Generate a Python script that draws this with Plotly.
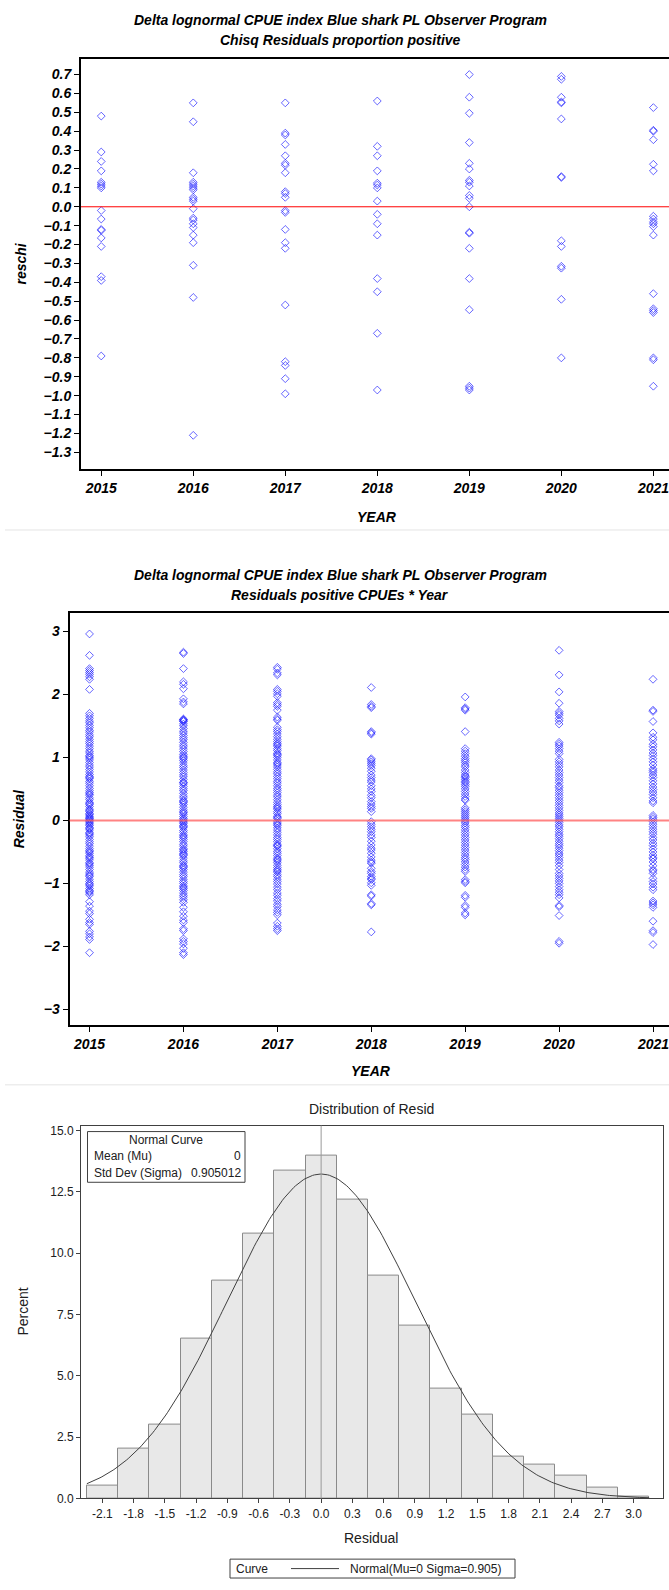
import plotly.graph_objects as go
import numpy as np

W, H = 669, 1590

YEARS = [2015, 2016, 2017, 2018, 2019, 2020, 2021]
YEAR_LABELS = ["2015", "2016", "2017", "2018", "2019", "2020", "2021"]

# ---- Panel 1: Chisq residuals proportion positive ----
reschi_2015 = [0.48, 0.29, 0.24, 0.19, 0.13, 0.12, 0.11, 0.10, -0.02, -0.065, -0.12, -0.125,
               -0.165, -0.21, -0.37, -0.39, -0.79]
reschi_2016 = [0.55, 0.45, 0.18, 0.13, 0.12, 0.11, 0.10, 0.09, 0.05, 0.04, 0.03, -0.01, -0.06,
               -0.07, -0.09, -0.11, -0.15, -0.19, -0.31, -0.48, -1.21]
reschi_2017 = [0.55, 0.39, 0.38, 0.33, 0.27, 0.23, 0.22, 0.18, 0.08, 0.07, 0.05, -0.02, -0.03,
               -0.12, -0.19, -0.22, -0.52, -0.82, -0.84, -0.91, -0.99]
reschi_2018 = [0.56, 0.32, 0.27, 0.19, 0.125, 0.115, 0.10, 0.03, -0.04, -0.09, -0.15, -0.38,
               -0.45, -0.67, -0.97]
reschi_2019 = [0.70, 0.58, 0.495, 0.34, 0.23, 0.20, 0.14, 0.13, 0.11, 0.06, 0.045, 0.0, -0.135,
               -0.14, -0.22, -0.38, -0.545, -0.95, -0.96, -0.97]
reschi_2020 = [0.69, 0.675, 0.58, 0.555, 0.55, 0.465, 0.16, 0.155, -0.18, -0.21, -0.315, -0.325,
               -0.49, -0.80]
reschi_2021 = [0.525, 0.405, 0.40, 0.355, 0.225, 0.19, -0.05, -0.065, -0.08, -0.09, -0.105,
               -0.15, -0.46, -0.54, -0.55, -0.56, -0.80, -0.81, -0.95]

# ---- Panel 2: Residuals positive CPUEs ----
resid_2015 = [2.96, 2.62, 2.41, 2.38, 2.35, 2.32, 2.28, 2.24, 2.08,
              1.70, 1.66, 1.62, 1.58, 1.55, 1.51, 1.47, 1.43, 1.40, 1.36, 1.33, 1.29, 1.25, 1.22,
              1.18, 1.14, 1.10, 1.07, 1.03, 0.99, 0.96, 0.92, 0.88, 0.85, 0.81, 0.77, 0.73, 0.70,
              0.66, 0.62, 0.59, 0.55, 0.51, 0.47, 0.44, 0.40, 0.36, 0.33, 0.29, 0.25, 0.22, 0.18,
              0.14, 0.11, 0.07, 0.03, 0.00, -0.04, -0.08, -0.11, -0.15, -0.19, -0.23, -0.26,
              -0.30, -0.34, -0.37, -0.41, -0.45, -0.48, -0.52, -0.56, -0.60, -0.63, -0.67, -0.71,
              -0.74, -0.78, -0.82, -0.85, -0.89, -0.93, -0.97, -1.00, -1.04, -1.08, -1.11, -1.15,
              -1.18, 0.02, 0.05, 0.09, 0.16, 0.27, 0.42, 0.68, 1.01, -0.02, -0.06, -0.13, -0.21,
              -0.50, -0.58, -0.69, -0.87, -1.02, -1.13,
              -1.29, -1.36, -1.44, -1.48, -1.57, -1.62, -1.65, -1.76, -1.80, -1.85, -1.89, -2.10]
resid_2016 = [2.67, 2.65, 2.41, 2.20, 2.16, 2.09, 1.93, 1.88, 1.85,
              1.61, 1.59, 1.57, 1.53, 1.50, 1.46, 1.42, 1.39, 1.35, 1.31, 1.28, 1.24, 1.20, 1.17,
              1.13, 1.09, 1.05, 1.02, 0.98, 0.95, 0.91, 0.87, 0.84, 0.80, 0.76, 0.72, 0.69, 0.65,
              0.61, 0.58, 0.54, 0.50, 0.47, 0.43, 0.39, 0.36, 0.32, 0.28, 0.25, 0.21, 0.17, 0.14,
              0.10, 0.06, 0.03, -0.01, -0.05, -0.08, -0.12, -0.16, -0.19, -0.23, -0.27, -0.30,
              -0.34, -0.38, -0.41, -0.45, -0.49, -0.52, -0.56, -0.60, -0.64, -0.67, -0.71, -0.75,
              -0.78, -0.82, -0.86, -0.89, -0.93, -0.97, -1.00, -1.04, -1.08, -1.11, -1.15, -1.19,
              -1.22, -1.26, -1.30, 1.60, 1.58, 1.00, 0.60, 0.30, 0.12, 0.01, -0.03, -0.10, -0.25,
              -0.47, -0.54, -0.73, -1.06,
              -1.38, -1.45, -1.52, -1.58, -1.62, -1.72, -1.75, -1.88, -1.92, -1.96, -2.03, -2.10,
              -2.13]
resid_2017 = [2.43, 2.40, 2.34, 2.31, 2.08, 2.05, 2.01, 1.97, 1.87, 1.84, 1.81, 1.75, 1.64, 1.61,
              1.59,
              1.48, 1.44, 1.41, 1.37, 1.33, 1.29, 1.25, 1.22, 1.18, 1.14, 1.11, 1.07, 1.03, 1.00,
              0.96, 0.92, 0.88, 0.85, 0.81, 0.77, 0.74, 0.70, 0.66, 0.62, 0.59, 0.55, 0.51, 0.48,
              0.44, 0.40, 0.37, 0.33, 0.29, 0.25, 0.22, 0.18, 0.14, 0.11, 0.07, 0.03, -0.01,
              -0.04, -0.08, -0.12, -0.15, -0.19, -0.23, -0.27, -0.30, -0.34, -0.38, -0.41, -0.45,
              -0.49, -0.52, -0.56, -0.60, -0.64, -0.67, -0.71, -0.75, -0.78, -0.82, -0.86, -0.89,
              -0.93, -0.97, -1.01, -1.06, -1.10, -1.15, -1.19, -1.24, -1.28, -1.33, -1.37, -1.42,
              -1.46, -1.50, 1.20, 1.05, 0.90, 0.20, 0.05, -0.06, -0.40, -0.62, -0.80,
              -1.63, -1.68, -1.72, -1.75]
resid_2018 = [2.11, 1.84, 1.81, 1.79, 1.41, 1.39, 1.37, 0.98, 0.96, 0.93, 0.90, 0.87, 0.83, 0.78,
              0.72, 0.68, 0.64, 0.61, 0.55, 0.50, 0.46, 0.40, 0.36, 0.30, 0.26, 0.22, 0.19, 0.14,
              -0.02, -0.06, -0.10, -0.14, -0.18, -0.23, -0.27, -0.33, -0.39, -0.44, -0.47, -0.52,
              -0.58, -0.63, -0.66, -0.68, -0.76, -0.81, -0.84, -0.89, -0.92, -0.94, -0.99, -1.03,
              -1.18, -1.20, -1.32, -1.34, -1.77]
resid_2019 = [1.96, 1.79, 1.77, 1.75, 1.41, 1.14, 1.10, 1.06, 1.02, 0.98, 0.95, 0.92, 0.88, 0.85,
              0.80, 0.76, 0.72, 0.70, 0.68, 0.65, 0.62, 0.60, 0.57, 0.54, 0.50, 0.46, 0.42, 0.38,
              0.34, 0.32, 0.20, 0.17, 0.14, 0.11, 0.08, 0.05, 0.02, -0.01, -0.04, -0.08, -0.11,
              -0.15, -0.19, -0.23, -0.27, -0.31, -0.35, -0.39, -0.43, -0.47, -0.51, -0.55, -0.59,
              -0.62, -0.66, -0.70, -0.74, -0.78, -0.81, -0.94, -0.97, -0.99, -1.19, -1.22, -1.35,
              -1.38, -1.47, -1.50]
resid_2020 = [2.70, 2.31, 2.04, 1.86, 1.73, 1.70, 1.67, 1.62, 1.58, 1.53, 1.24, 1.21, 1.18, 1.14,
              1.10, 1.06, 0.97, 0.93, 0.89, 0.85, 0.80, 0.76, 0.72, 0.68, 0.64, 0.60, 0.55, 0.52,
              0.48, 0.44, 0.40, 0.36, 0.32, 0.28, 0.24, 0.20, 0.16, 0.12, 0.09, 0.06, 0.03, 0.00,
              -0.03, -0.07, -0.10, -0.14, -0.18, -0.22, -0.25, -0.29, -0.33, -0.37, -0.40, -0.44,
              -0.48, -0.52, -0.55, -0.59, -0.63, -0.67, -0.72, -0.78, -0.84, -0.88, -0.92, -0.96,
              -1.00, -1.05, -1.10, -1.14, -1.18, -1.23, -1.35, -1.37, -1.51, -1.92, -1.95]
resid_2021 = [2.24, 1.75, 1.73, 1.57, 1.39, 1.32, 1.28, 1.21, 1.17, 1.12, 1.07, 1.03, 0.98, 0.93,
              0.88, 0.82, 0.79, 0.76, 0.72, 0.68, 0.63, 0.58, 0.53, 0.49, 0.45, 0.41, 0.36, 0.31,
              0.28, 0.08, 0.05, 0.02, -0.02, -0.06, -0.10, -0.14, -0.18, -0.22, -0.27, -0.31,
              -0.36, -0.40, -0.45, -0.50, -0.55, -0.59, -0.61, -0.66, -0.72, -0.78, -0.80, -0.84,
              -0.92, -0.97, -1.01, -1.06, -1.10, -1.28, -1.31, -1.34, -1.38, -1.60, -1.75, -1.78,
              -1.97]

# ---- Panel 3: Distribution of Resid ----
HIST_MID = [-2.1, -1.8, -1.5, -1.2, -0.9, -0.6, -0.3, 0.0, 0.3, 0.6, 0.9, 1.2, 1.5, 1.8, 2.1,
            2.4, 2.7, 3.0]
HIST_PCT = [0.51, 2.03, 3.00, 6.53, 8.88, 10.80, 13.36, 13.98, 12.17, 9.07, 7.05, 4.49, 3.42,
            1.72, 1.38, 0.95, 0.43, 0.09]
HIST_TICKTEXT = ["-2.1", "-1.8", "-1.5", "-1.2", "-0.9", "-0.6", "-0.3", "0.0", "0.3", "0.6",
                 "0.9", "1.2", "1.5", "1.8", "2.1", "2.4", "2.7", "3.0"]
PCT_TICKS = [0.0, 2.5, 5.0, 7.5, 10.0, 12.5, 15.0]
PCT_TICKTEXT = ["0.0", "2.5", "5.0", "7.5", "10.0", "12.5", "15.0"]
MU = 0.0
SIGMA = 0.905012
BIN_W = 0.3

TITLE_1 = "Delta lognormal CPUE index Blue shark PL Observer Program"
SUB_1 = "Chisq Residuals proportion positive"
SUB_2 = "Residuals positive CPUEs * Year"


def fx(x):
    return x / W


def fy(y):
    return 1 - y / H


SASF = "Liberation Sans Narrow, Arial Narrow, Liberation Sans, Arial, sans-serif"
BI = dict(family=SASF, size=14, color="black", weight="bold", style="italic")
NF = dict(family=SASF, size=12, color="#202020")

fig = go.Figure()

reschi_all = [reschi_2015, reschi_2016, reschi_2017, reschi_2018, reschi_2019, reschi_2020,
              reschi_2021]
resid_all = [resid_2015, resid_2016, resid_2017, resid_2018, resid_2019, resid_2020,
             resid_2021]

mk = dict(symbol="diamond-open", size=6, color="rgba(20,20,255,0.65)", line=dict(width=1))

xs, ys = [], []
for yr, vals in zip(YEARS, reschi_all):
    xs += [yr] * len(vals)
    ys += vals
fig.add_trace(go.Scatter(x=xs, y=ys, mode="markers", marker=mk, xaxis="x", yaxis="y",
                         showlegend=False, hoverinfo="skip"))

xs, ys = [], []
for yr, vals in zip(YEARS, resid_all):
    xs += [yr] * len(vals)
    ys += vals
fig.add_trace(go.Scatter(x=xs, y=ys, mode="markers", marker=mk, xaxis="x2", yaxis="y2",
                         showlegend=False, hoverinfo="skip"))

# histogram bars
fig.add_trace(go.Bar(x=HIST_MID, y=HIST_PCT, width=BIN_W, xaxis="x3", yaxis="y3",
                     marker=dict(color="#e8e8e8", line=dict(color="#8a8a8a", width=1)),
                     showlegend=False, hoverinfo="skip"))

# normal curve
cx = np.linspace(-2.25, 3.15, 300)
cy = 100 * BIN_W * np.exp(-0.5 * ((cx - MU) / SIGMA) ** 2) / (SIGMA * np.sqrt(2 * np.pi))
fig.add_trace(go.Scatter(x=cx, y=cy, mode="lines", line=dict(color="#404040", width=1),
                         xaxis="x3", yaxis="y3", showlegend=False, hoverinfo="skip"))

axis_common = dict(showgrid=False, zeroline=False, ticks="outside", ticklen=5, tickwidth=1,
                   tickcolor="black", showline=True, linecolor="black", linewidth=2)

# the last year's label sits at the very edge of the page; it is drawn as an annotation
year_ticktext = YEAR_LABELS[:-1] + [""]

fig.update_layout(
    width=W, height=H, autosize=False,
    margin=dict(l=0, r=0, t=0, b=0),
    paper_bgcolor="white", plot_bgcolor="white",
    bargap=0,
    xaxis=dict(domain=[fx(81), 1.0], range=[2014.78, 2021.17], tickvals=YEARS,
               ticktext=year_ticktext, tickfont=BI, mirror=True, anchor="y", **axis_common),
    yaxis=dict(domain=[fy(470), fy(57)], range=[-1.39, 0.784], tick0=0, dtick=0.1,
               tickformat=".1f", tickfont=BI, anchor="x", **axis_common),
    xaxis2=dict(domain=[fx(69.5), 1.0], range=[2014.787, 2021.17], tickvals=YEARS,
                ticktext=year_ticktext, tickfont=BI, mirror=True, anchor="y2", **axis_common),
    yaxis2=dict(domain=[fy(1029), fy(614)], range=[-3.25, 3.3], tick0=0, dtick=1,
                tickfont=BI, anchor="x2", **axis_common),
    xaxis3=dict(domain=[fx(81), fx(663)], range=[-2.306, 3.283], tickvals=HIST_MID,
                ticktext=HIST_TICKTEXT, tickfont=NF, mirror=True, anchor="y3",
                showgrid=False, zeroline=False, ticks="outside", ticklen=4, tickcolor="#404040",
                showline=True, linecolor="#404040", linewidth=1),
    yaxis3=dict(domain=[fy(1505), fy(1130)], range=[0, 15.2], tickvals=PCT_TICKS,
                ticktext=PCT_TICKTEXT, tickfont=NF, mirror=True, anchor="x3",
                showgrid=False, zeroline=False, ticks="outside", ticklen=4, tickcolor="#404040",
                showline=True, linecolor="#404040", linewidth=1),
)

shapes = []
# zero reference lines
shapes.append(dict(type="line", xref="x domain", yref="y", x0=0, x1=1, y0=0, y1=0,
                   line=dict(color="red", width=1)))
shapes.append(dict(type="line", xref="x2 domain", yref="y2", x0=0, x1=1, y0=0, y1=0,
                   line=dict(color="rgba(255,90,90,0.75)", width=2)))
# mean reference line in histogram
shapes.append(dict(type="line", xref="x3", yref="y3 domain", x0=MU, x1=MU, y0=0, y1=1,
                   line=dict(color="#9a9a9a", width=1), layer="above"))
# separators between panels
for yy in (531, 1089):
    shapes.append(dict(type="line", xref="paper", yref="paper", x0=fx(5), x1=1, y0=fy(yy),
                       y1=fy(yy), line=dict(color="#e4e4e4", width=1)))
# inset box
shapes.append(dict(type="rect", xref="paper", yref="paper", x0=fx(87.5), x1=fx(245),
                   y0=fy(1187), y1=fy(1136), line=dict(color="#404040", width=1),
                   fillcolor="white", layer="above"))
# bottom legend box + sample line
shapes.append(dict(type="rect", xref="paper", yref="paper", x0=fx(230), x1=fx(515),
                   y0=fy(1585), y1=fy(1566), line=dict(color="#404040", width=1),
                   fillcolor="white"))
shapes.append(dict(type="line", xref="paper", yref="paper", x0=fx(291), x1=fx(339),
                   y0=fy(1575.5), y1=fy(1575.5), line=dict(color="#404040", width=1)))
fig.update_layout(shapes=shapes)

ann = []


def add_text(text, x, y, font, xanchor="center", yanchor="middle", angle=0, xref="paper"):
    ann.append(dict(text=text, x=fx(x) if xref == "paper" else x, y=fy(y), xref=xref,
                    yref="paper", showarrow=False, xanchor=xanchor, yanchor=yanchor, font=font,
                    textangle=angle))


TF = dict(family=SASF, size=14, color="black", weight="bold", style="italic")
add_text(TITLE_1, 340, 18, TF)
add_text(SUB_1, 340, 38, TF)
add_text(TITLE_1, 340, 576, TF)
add_text(SUB_2, 340, 596, TF)
add_text("reschi", 21, 263, BI, angle=-90)
add_text("YEAR", 377, 518, BI)
add_text("Residual", 19, 822, BI, angle=-90)
add_text("YEAR", 371, 1075, BI)
# last year tick labels (at data x = 2021 on each x axis)
add_text(YEAR_LABELS[-1], YEARS[-1], 489, BI, xref="x")
add_text(YEAR_LABELS[-1], YEARS[-1], 1048, BI, xref="x2")

PF = dict(family=SASF, size=14, color="#202020")
add_text("Distribution of Resid", 371, 1113, PF)
add_text("Percent", 23, 1317, PF, angle=-90)
add_text("Residual", 371, 1545, PF)

IF = dict(family=SASF, size=12, color="#202020")
add_text("Normal Curve", 166, 1144, IF)
add_text("Mean (Mu)", 91.5, 1161, IF, xanchor="left")
add_text("0", 243, 1161, IF, xanchor="right")
add_text("Std Dev (Sigma)", 91.5, 1177.5, IF, xanchor="left")
add_text("0.905012", 243, 1177.5, IF, xanchor="right")
add_text("Curve", 234, 1575.5, IF, xanchor="left")
add_text("Normal(Mu=0 Sigma=0.905)", 348, 1575.5, IF, xanchor="left")
fig.update_layout(annotations=ann)

fig.write_html("out.html",
               config={"displayModeBar": False},
               post_script="document.body.style.margin='0';"
                           "document.body.style.overflow='hidden';")
